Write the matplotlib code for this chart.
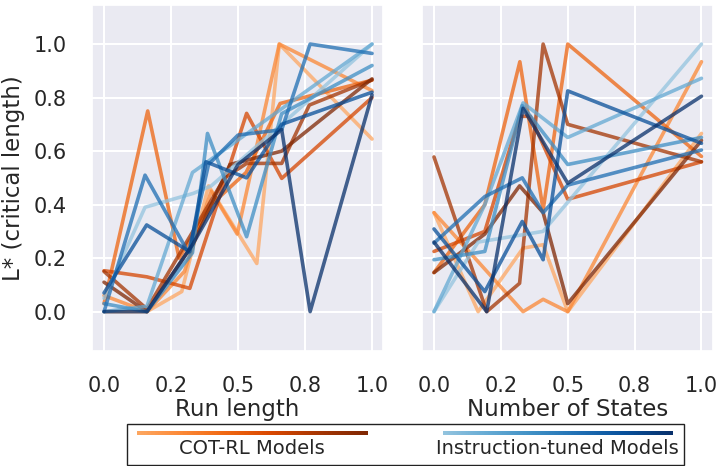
import numpy as np
import matplotlib
matplotlib.use("Agg")
import matplotlib.pyplot as plt
import seaborn as sns
from matplotlib.patches import Rectangle

sns.set_theme(style="darkgrid")
plt.rcParams['font.family'] = ['DejaVu Sans']

# ---- data: Run length panel (normalized x, critical length y) ----
cot_run_x = [
    [0, 0.16, 0.29, 0.39, 0.57, 0.654, 1.0],
    [0, 0.16, 0.30, 0.40, 0.497, 0.654, 1.0],
    [0, 0.163, 0.28, 0.40, 0.53, 0.657, 1.0],
    [0, 0.16, 0.32, 0.532, 0.663, 1.0],
    [0, 0.16, 0.45, 0.532, 0.663, 0.766, 1.0],
    [0, 0.16, 0.33, 0.47, 0.663, 1.0],
]
cot_run_y = [
    [0.0, 0.0, 0.075, 0.47, 0.18, 1.0, 0.645],
    [0.06, 0.0, 0.15, 0.45, 0.29, 1.0, 0.826],
    [0.03, 0.75, 0.20, 0.40, 0.52, 0.778, 0.865],
    [0.153, 0.13, 0.087, 0.741, 0.498, 0.80],
    [0.15, 0.01, 0.50, 0.554, 0.554, 0.772, 0.866],
    [0.11, 0.0, 0.25, 0.55, 0.60, 0.87],
]
inst_run_x = [
    [0, 0.153, 0.333, 0.40, 0.663, 1.0],
    [0, 0.16, 0.33, 0.47, 1.0],
    [0, 0.16, 0.33, 0.386, 0.532, 0.663, 1.0],
    [0, 0.153, 0.315, 0.39, 0.50, 0.663, 0.769, 1.0],
    [0, 0.159, 0.32, 0.38, 0.532, 0.663, 1.0],
    [0, 0.16, 0.33, 0.50, 0.663, 0.769, 1.0],
]
inst_run_y = [
    [0.05, 0.39, 0.442, 0.47, 0.70, 1.0],
    [0.0, 0.02, 0.52, 0.62, 1.0],
    [0.03, 0.0, 0.22, 0.666, 0.28, 0.74, 0.92],
    [0.0, 0.51, 0.22, 0.55, 0.66, 0.68, 1.0, 0.965],
    [0.07, 0.324, 0.224, 0.56, 0.50, 0.70, 0.82],
    [0.0, 0.0, 0.25, 0.55, 0.68, 0.0, 0.81],
]

# ---- data: Number of States panel ----
cot_states_x = [
    [0, 0.165, 0.333, 0.408, 0.5, 1.0],
    [0, 0.333, 0.408, 0.5, 1.0],
    [0, 0.19, 0.321, 0.408, 0.5, 1.0],
    [0, 0.19, 0.32, 0.36, 0.5, 1.0],
    [0, 0.197, 0.32, 0.408, 0.5, 1.0],
    [0, 0.19, 0.32, 0.408, 0.5, 1.0],
]
cot_states_y = [
    [0.37, 0.0, 0.2375, 0.25, 0.0, 0.666],
    [0.37, 0.0, 0.046, 0.0, 0.934],
    [0.146, 0.40, 0.934, 0.38, 1.0, 0.58],
    [0.225, 0.30, 0.73, 0.73, 0.42, 0.56],
    [0.578, 0.0, 0.106, 1.0, 0.70, 0.56],
    [0.146, 0.29, 0.47, 0.37, 0.03, 0.64],
]
inst_states_x = [
    [0, 0.165, 0.408, 1.0],
    [0, 0.19, 0.333, 0.5, 1.0],
    [0, 0.19, 0.33, 0.5, 1.0],
    [0, 0.19, 0.33, 0.408, 0.5, 1.0],
    [0, 0.19, 0.33, 0.408, 0.5, 1.0],
    [0, 0.197, 0.333, 0.5, 1.0],
]
inst_states_y = [
    [0.0, 0.26, 0.30, 1.0],
    [0.0, 0.40, 0.78, 0.651, 0.872],
    [0.194, 0.225, 0.77, 0.55, 0.651],
    [0.256, 0.43, 0.50, 0.37, 0.473, 0.604],
    [0.309, 0.075, 0.337, 0.194, 0.825, 0.629],
    [0.26, 0.0, 0.76, 0.48, 0.805],
]

xticks = [0.0, 0.25, 0.5, 0.75, 1.0]
yticks = [0.0, 0.2, 0.4, 0.6, 0.8, 1.0]
xlabels = ["Run length", "Number of States"]
ylabel = "L* (critical length)"
legend_labels = ["COT-RL Models", "Instruction-tuned Models"]

W, H = 718, 466
fig = plt.figure(figsize=(W / 100, H / 100), dpi=100)

def fx(px):
    return px / W

def fy(py):
    return 1 - py / H

ax1 = fig.add_axes([fx(91.7), fy(350.7), fx(291.6), (350.7 - 5) / H])
ax2 = fig.add_axes([fx(421.7), fy(350.7), fx(291.0), (350.7 - 5) / H], sharey=ax1)

ocols = plt.get_cmap("Oranges")(np.linspace(0.4, 1.0, 6))
bcols = plt.get_cmap("Blues")(np.linspace(0.4, 1.0, 6))

panels = [
    (ax1, cot_run_x, cot_run_y, inst_run_x, inst_run_y),
    (ax2, cot_states_x, cot_states_y, inst_states_x, inst_states_y),
]
for ax, cx, cy, ix, iy in panels:
    for i in range(6):
        ax.plot(cx[i], cy[i], color=ocols[i], lw=2.6, alpha=0.75)
    for i in range(6):
        ax.plot(ix[i], iy[i], color=bcols[i], lw=2.6, alpha=0.75)
    ax.set_xlim(-0.046, 1.042)
    ax.set_xticks(xticks)
    ax.set_xticklabels([f"{t:.1f}" for t in xticks])
    ax.tick_params(axis="both", labelsize=15, pad=12)
    ax.grid(True, color="white", lw=1.5)

ax1.set_ylim(-0.146, 1.146)
ax1.set_yticks(yticks)
ax1.set_yticklabels([f"{t:.1f}" for t in yticks])
ax1.set_ylabel(ylabel, fontsize=16.5, labelpad=6)
ax1.set_xlabel(xlabels[0], fontsize=16.5, labelpad=2)
ax2.set_xlabel(xlabels[1], fontsize=16.5, labelpad=2)
plt.setp(ax2.get_yticklabels(), visible=False)

# ---- custom gradient legend ----
fig.add_artist(Rectangle((fx(127), fy(465)), fx(684 - 127), (465 - 424) / H,
                         transform=fig.transFigure, fill=False, edgecolor="#222222", lw=1.0))

grad = np.linspace(0.4, 1.0, 256).reshape(1, -1)

def grad_bar(x0, x1, y, cmap):
    gax = fig.add_axes([fx(x0), fy(y + 2), fx(x1 - x0), 4 / H])
    gax.imshow(grad, aspect="auto", cmap=cmap, vmin=0, vmax=1, interpolation="bilinear")
    gax.set_axis_off()

grad_bar(137, 367, 432.5, "Oranges")
grad_bar(443, 673, 432.5, "Blues")
fig.text(fx(252), fy(449), legend_labels[0], ha="center", va="center", fontsize=14, color="#262626")
fig.text(fx(557), fy(449), legend_labels[1], ha="center", va="center", fontsize=14, color="#262626")

fig.savefig("out.png", dpi=100)
